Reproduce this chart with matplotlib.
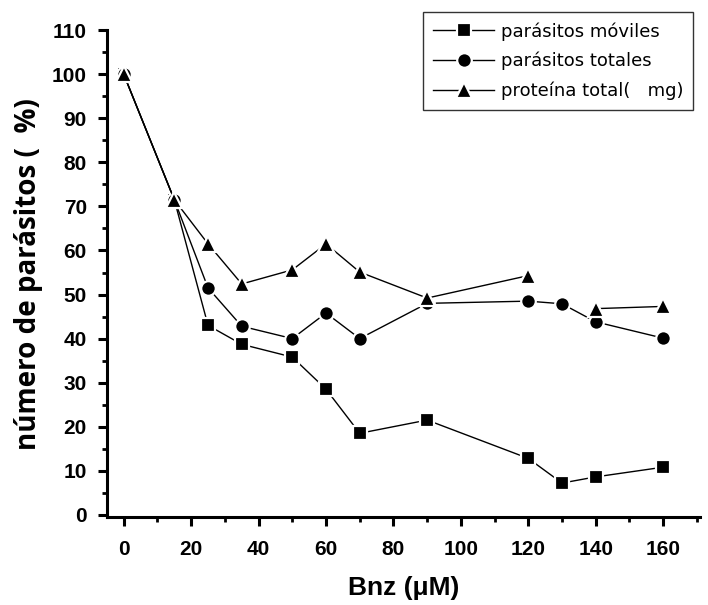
import numpy as np
import matplotlib
matplotlib.use("Agg")
import matplotlib.pyplot as plt
from matplotlib.ticker import MultipleLocator

# Benznidazole concentration (µM)
bnz = [0, 15, 25, 35, 50, 60, 70, 90, 120, 130, 140, 160]

# Percent of control for each measurement
moviles = [100, 71.5, 43.0, 38.7, 35.8, 28.5, 18.5, 21.5, 12.8, 7.2, 8.6, 10.8]
totales = [100, 71.5, 51.5, 42.8, 40.0, 45.8, 40.0, 48.0, 48.5, 47.9, 43.8, 40.1]
proteina = [100, 71.5, 61.5, 52.4, 55.6, 61.5, 55.1, 49.2, 54.3, np.nan, 46.8, 47.3]

labels = ["parásitos móviles", "parásitos totales", "proteína total(   mg)"]

fig = plt.figure(figsize=(7.08, 6.05), dpi=100)
ax = fig.add_axes([0.151, 0.1455, 0.838, 0.8045])

style = dict(color="black", linewidth=1.0, markersize=10.5,
             markerfacecolor="black", markeredgecolor="white",
             markeredgewidth=1.6)
ax.plot(bnz, moviles, marker="s", label=labels[0], **{**style, "markersize": 10})
ax.plot(bnz, totales, marker="o", label=labels[1], **style)
ax.plot(bnz, proteina, marker="^", label=labels[2], **{**style, "markersize": 11.5})

ax.set_xlim(-5, 171)
ax.set_ylim(-0.5, 110)
ax.xaxis.set_major_locator(MultipleLocator(20))
ax.xaxis.set_minor_locator(MultipleLocator(10))
ax.yaxis.set_major_locator(MultipleLocator(10))
ax.yaxis.set_minor_locator(MultipleLocator(5))

for side in ("top", "right"):
    ax.spines[side].set_visible(False)
for side in ("left", "bottom"):
    ax.spines[side].set_linewidth(2.2)

ax.tick_params(which="major", direction="out", length=6.5, width=2.2, pad=8)
ax.tick_params(axis="x", which="major", pad=10)
ax.tick_params(which="minor", direction="out", length=3.5, width=2.0)
for lab in ax.get_xticklabels() + ax.get_yticklabels():
    lab.set_fontfamily("Liberation Sans")
    lab.set_fontweight("bold")
    lab.set_fontsize(15)

ax.set_xlabel("Bnz (\u03bcM)", fontfamily="Liberation Sans", fontweight="bold",
              fontsize=19, labelpad=12)
ax.set_ylabel("número de parásitos (  %)", fontfamily="Open Sans", fontweight="bold",
              fontsize=20, labelpad=6)

leg = ax.legend(loc="upper right", bbox_to_anchor=(0.988, 1.037),
                prop={"family": "DejaVu Sans", "size": 13},
                frameon=True, fancybox=False, edgecolor="black",
                handlelength=3.4, handletextpad=0.35, borderpad=0.55,
                labelspacing=0.62, borderaxespad=0)
leg.get_frame().set_linewidth(1.0)

fig.savefig("out.png", dpi=100)
